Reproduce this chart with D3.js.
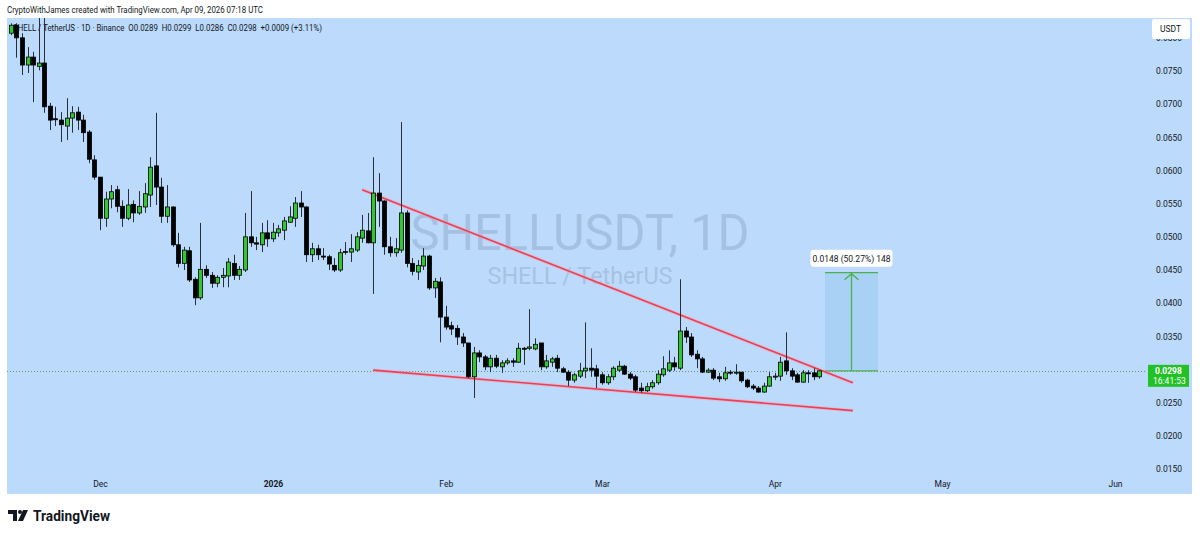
<!DOCTYPE html>
<html><head><meta charset="utf-8">
<script src="https://cdn.jsdelivr.net/npm/d3@7"></script>
<style>
body{margin:0;background:#fff;}
svg{display:block;font-family:Roboto,"Open Sans",sans-serif;}
</style></head>
<body><svg id="c" width="1200" height="535"></svg>
<script>
// ---- data ----
const startDate = "2025-11-15"; // first candle (daily)
const opens = [0.0807,0.0819,0.0800,0.0759,0.0771,0.0757,0.0762,0.0697,0.0678,0.0676,0.0667,0.0679,0.0688,0.0676,0.0658,0.0616,0.0590,0.0528,0.0557,0.0571,0.0546,0.0528,0.0549,0.0536,0.0545,0.0563,0.0607,0.0575,0.0531,0.0545,0.0488,0.0460,0.0479,0.0436,0.0408,0.0451,0.0442,0.0430,0.0439,0.0441,0.0460,0.0442,0.0450,0.0500,0.0491,0.0488,0.0506,0.0497,0.0506,0.0510,0.0522,0.0528,0.0551,0.0545,0.0473,0.0482,0.0471,0.0470,0.0457,0.0450,0.0477,0.0477,0.0480,0.0498,0.0509,0.0491,0.0566,0.0554,0.0485,0.0476,0.0480,0.0536,0.0460,0.0447,0.0456,0.0471,0.0423,0.0432,0.0379,0.0366,0.0362,0.0349,0.0340,0.0289,0.0325,0.0319,0.0304,0.0317,0.0304,0.0310,0.0313,0.0311,0.0332,0.0332,0.0331,0.0340,0.0304,0.0311,0.0317,0.0301,0.0296,0.0284,0.0290,0.0298,0.0302,0.0301,0.0292,0.0280,0.0289,0.0299,0.0305,0.0293,0.0289,0.0272,0.0268,0.0274,0.0280,0.0292,0.0299,0.0310,0.0302,0.0358,0.0349,0.0323,0.0316,0.0296,0.0299,0.0289,0.0286,0.0296,0.0295,0.0296,0.0284,0.0275,0.0272,0.0266,0.0275,0.0289,0.0290,0.0313,0.0298,0.0292,0.0281,0.0295,0.0295,0.0289];
const highs = [0.0822,0.0822,0.0807,0.0786,0.0779,0.0830,0.0830,0.0702,0.0696,0.0688,0.0709,0.0697,0.0696,0.0684,0.0661,0.0623,0.0590,0.0568,0.0578,0.0577,0.0555,0.0572,0.0555,0.0569,0.0581,0.0620,0.0687,0.0589,0.0578,0.0546,0.0506,0.0485,0.0485,0.0439,0.0521,0.0457,0.0447,0.0442,0.0453,0.0468,0.0473,0.0456,0.0536,0.0569,0.0500,0.0521,0.0525,0.0521,0.0518,0.0530,0.0546,0.0560,0.0569,0.0546,0.0491,0.0488,0.0483,0.0473,0.0468,0.0482,0.0492,0.0504,0.0507,0.0533,0.0536,0.0620,0.0596,0.0555,0.0500,0.0498,0.0673,0.0540,0.0468,0.0465,0.0483,0.0473,0.0438,0.0439,0.0396,0.0372,0.0367,0.0355,0.0340,0.0334,0.0329,0.0322,0.0322,0.0322,0.0314,0.0317,0.0317,0.0340,0.0334,0.0391,0.0347,0.0340,0.0322,0.0319,0.0322,0.0304,0.0299,0.0295,0.0310,0.0371,0.0332,0.0307,0.0296,0.0293,0.0305,0.0313,0.0307,0.0296,0.0292,0.0280,0.0280,0.0284,0.0299,0.0320,0.0329,0.0319,0.0436,0.0364,0.0355,0.0329,0.0319,0.0302,0.0302,0.0295,0.0304,0.0299,0.0308,0.0296,0.0286,0.0278,0.0275,0.0280,0.0296,0.0295,0.0319,0.0356,0.0302,0.0295,0.0299,0.0299,0.0302,0.0299];
const lows = [0.0804,0.0770,0.0744,0.0747,0.0703,0.0751,0.0687,0.0661,0.0667,0.0643,0.0646,0.0657,0.0661,0.0643,0.0611,0.0586,0.0510,0.0515,0.0543,0.0537,0.0515,0.0525,0.0522,0.0533,0.0536,0.0545,0.0548,0.0521,0.0521,0.0485,0.0454,0.0450,0.0432,0.0397,0.0405,0.0438,0.0423,0.0424,0.0424,0.0424,0.0435,0.0435,0.0447,0.0485,0.0480,0.0477,0.0485,0.0492,0.0500,0.0495,0.0521,0.0515,0.0530,0.0462,0.0462,0.0465,0.0465,0.0450,0.0447,0.0447,0.0473,0.0462,0.0477,0.0491,0.0490,0.0414,0.0515,0.0473,0.0470,0.0470,0.0476,0.0454,0.0442,0.0435,0.0450,0.0420,0.0408,0.0341,0.0360,0.0352,0.0337,0.0334,0.0287,0.0257,0.0311,0.0299,0.0296,0.0302,0.0295,0.0307,0.0304,0.0310,0.0307,0.0329,0.0329,0.0299,0.0301,0.0304,0.0296,0.0295,0.0275,0.0280,0.0287,0.0287,0.0289,0.0272,0.0277,0.0277,0.0284,0.0296,0.0292,0.0284,0.0266,0.0265,0.0266,0.0271,0.0277,0.0289,0.0296,0.0298,0.0299,0.0340,0.0319,0.0302,0.0295,0.0295,0.0284,0.0281,0.0283,0.0292,0.0292,0.0280,0.0272,0.0269,0.0265,0.0265,0.0274,0.0284,0.0283,0.0292,0.0284,0.0280,0.0280,0.0280,0.0284,0.0286];
const closes = [0.0819,0.0800,0.0759,0.0771,0.0759,0.0762,0.0696,0.0676,0.0677,0.0669,0.0679,0.0687,0.0676,0.0657,0.0617,0.0590,0.0528,0.0557,0.0568,0.0546,0.0528,0.0548,0.0536,0.0546,0.0565,0.0605,0.0575,0.0531,0.0545,0.0488,0.0460,0.0480,0.0435,0.0408,0.0451,0.0442,0.0430,0.0439,0.0442,0.0462,0.0442,0.0451,0.0500,0.0491,0.0489,0.0506,0.0497,0.0507,0.0512,0.0524,0.0530,0.0551,0.0545,0.0473,0.0482,0.0473,0.0470,0.0459,0.0450,0.0476,0.0478,0.0482,0.0500,0.0510,0.0491,0.0566,0.0554,0.0485,0.0476,0.0482,0.0536,0.0460,0.0448,0.0457,0.0471,0.0423,0.0433,0.0379,0.0364,0.0361,0.0349,0.0340,0.0289,0.0325,0.0319,0.0304,0.0317,0.0305,0.0310,0.0313,0.0311,0.0332,0.0331,0.0334,0.0338,0.0304,0.0313,0.0316,0.0302,0.0296,0.0284,0.0292,0.0298,0.0302,0.0299,0.0290,0.0280,0.0289,0.0302,0.0305,0.0293,0.0287,0.0269,0.0268,0.0274,0.0280,0.0293,0.0301,0.0310,0.0304,0.0358,0.0349,0.0322,0.0316,0.0296,0.0299,0.0287,0.0286,0.0295,0.0295,0.0296,0.0283,0.0274,0.0272,0.0266,0.0275,0.0289,0.0290,0.0311,0.0298,0.0290,0.0281,0.0295,0.0294,0.0289,0.0298];

const priceTicks = [0.0150,0.0200,0.0250,0.0350,0.0400,0.0450,0.0500,0.0550,0.0600,0.0650,0.0700,0.0750,0.0800];
const timeTickDates = ["2025-12-01","2026-01-01","2026-02-01","2026-03-01","2026-04-01","2026-05-01","2026-06-01"];
const timeTickLabels = ["Dec","2026","Feb","Mar","Apr","May","Jun"];

const upperTrendDates = ["2026-01-17","2026-04-15"];
const upperTrendPrices = [0.0571,0.0280];
const lowerTrendDates = ["2026-01-19","2026-04-15"];
const lowerTrendPrices = [0.0299,0.0238];
const rangeDates = ["2026-04-10","2026-04-19T12:00"];
const rangePrices = [0.0298,0.0446];
const rangeLabel = "0.0148 (50.27%) 148";
const lastPrice = 0.0298;
const countdown = "16:41:53";
const legendText = "SHELL / TetherUS · 1D · Binance  O0.0289  H0.0299  L0.0286  C0.0298  +0.0009 (+3.11%)";
const creditText = "CryptoWithJames created with TradingView.com, Apr 09, 2026 07:18 UTC";

// ---- layout ----
const svg = d3.select("#c");
const W = 1200, H = 535;
const frame = {x0:7, x1:1192, y0:18, y1:494};
const plot = {x0:7, x1:1146, y0:18, y1:478};
const BG = "#bcdafb";
const GREEN = "#33c633";
const parse = d3.utcParse("%Y-%m-%d");
const parseT = s => s.includes("T") ? d3.utcParse("%Y-%m-%dT%H:%M")(s) : parse(s);

const x = d3.scaleUtc().domain([parse("2025-12-01"), parse("2026-06-01")]).range([100, 1115]);
const y = d3.scaleLinear().domain([0.015, 0.075]).range([469, 71]);

const start = parse(startDate);
const candles = closes.map((c,i)=>({date:d3.utcDay.offset(start,i), o:opens[i], h:highs[i], l:lows[i], c}));

// background
svg.append("rect").attr("x",0).attr("y",0).attr("width",W).attr("height",H).attr("fill","#fff");
svg.append("rect").attr("x",frame.x0).attr("y",frame.y0).attr("width",frame.x1-frame.x0).attr("height",frame.y1-frame.y0).attr("fill",BG);

// credit
svg.append("text").attr("x",7).attr("y",12.5).attr("font-size",9.5).attr("fill","#131722")
  .attr("textLength",256).attr("lengthAdjust","spacingAndGlyphs").text(creditText);

svg.append("defs").append("clipPath").attr("id","clip").append("rect")
  .attr("x",plot.x0).attr("y",plot.y0).attr("width",plot.x1-plot.x0).attr("height",plot.y1-plot.y0);
const g = svg.append("g").attr("clip-path","url(#clip)");

// watermark
const cx = 580;
g.append("text").attr("x",cx).attr("y",250).attr("text-anchor","middle").attr("font-size",50)
  .attr("fill","#8aa2c0").attr("fill-opacity",0.45).attr("textLength",339).attr("lengthAdjust","spacingAndGlyphs").text("SHELLUSDT, 1D");
g.append("text").attr("x",cx).attr("y",284).attr("text-anchor","middle").attr("font-size",23)
  .attr("fill","#8aa2c0").attr("fill-opacity",0.45).attr("textLength",185).attr("lengthAdjust","spacingAndGlyphs").text("SHELL / TetherUS");

// legend (under candles, as in the reference)
g.append("text").attr("x",13).attr("y",31).attr("font-size",9.5).attr("fill","#131722")
  .attr("textLength",309).attr("lengthAdjust","spacingAndGlyphs").attr("xml:space","preserve").text(legendText);

// last price dotted line
g.append("line").attr("x1",plot.x0).attr("x2",plot.x1).attr("y1",Math.round(y(lastPrice))+0.5).attr("y2",Math.round(y(lastPrice))+0.5)
  .attr("stroke","#5f9a6e").attr("stroke-width",1).attr("stroke-dasharray","1,2");

// range box
const rx0 = x(parseT(rangeDates[0])), rx1 = x(parseT(rangeDates[1]));
const ry0 = y(rangePrices[0]), ry1 = y(rangePrices[1]);
g.append("rect").attr("x",rx0).attr("y",ry1).attr("width",rx1-rx0).attr("height",ry0-ry1).attr("fill","#3a9ad9").attr("fill-opacity",0.14);
[ry0, ry1].forEach(yy=>g.append("line").attr("x1",rx0).attr("x2",rx1).attr("y1",yy).attr("y2",yy).attr("stroke","#4caf50").attr("stroke-width",1.3));
const mx = (rx0+rx1)/2;
g.append("line").attr("x1",mx).attr("x2",mx).attr("y1",ry0).attr("y2",ry1+1).attr("stroke","#4caf50").attr("stroke-width",1.3);
g.append("path").attr("d",`M${mx-7},${ry1+7}L${mx},${ry1+1}L${mx+7},${ry1+7}`).attr("fill","none").attr("stroke","#4caf50").attr("stroke-width",1.3);

// trend lines
function trend(dates, prices){
  const pts = dates.map((d,i)=>[x(parseT(d)), y(prices[i])]);
  g.append("path").attr("d", d3.line()(pts)).attr("stroke","#f7a0b0").attr("stroke-width",3.5).attr("stroke-opacity",0.5).attr("fill","none");
  g.append("path").attr("d", d3.line()(pts)).attr("stroke","#ec3f58").attr("stroke-width",1.6).attr("fill","none");
}
trend(upperTrendDates, upperTrendPrices);
trend(lowerTrendDates, lowerTrendPrices);

// candles
const bw = 4;
const cg = g.append("g");
candles.forEach(d=>{
  const cxp = Math.round(x(d.date));
  const up = d.c >= d.o;
  cg.append("line").attr("x1",cxp+0.5).attr("x2",cxp+0.5).attr("y1",y(d.h)).attr("y2",y(d.l))
    .attr("stroke","#2a2e39").attr("stroke-width",1);
  const top = y(Math.max(d.o,d.c)), bot = y(Math.min(d.o,d.c));
  cg.append("rect").attr("x",cxp-1.5).attr("y",top).attr("width",bw).attr("height",Math.max(1,bot-top))
    .attr("fill", up ? GREEN : "#000").attr("stroke","#000").attr("stroke-width",0.8);
});

// range label
const lw = 82, lh = 17, lx = mx - lw/2, ly = ry1 - 23;
svg.append("rect").attr("x",lx).attr("y",ly).attr("width",lw).attr("height",lh).attr("rx",3).attr("fill","#fff");
svg.append("text").attr("x",mx).attr("y",ly+12).attr("text-anchor","middle").attr("font-size",8.5).attr("fill","#131722").text(rangeLabel);

// y axis
const ya = svg.append("g").attr("transform",`translate(1150,0)`)
  .call(d3.axisRight(y).tickValues(priceTicks).tickFormat(d3.format(".4f")).tickSize(0).tickPadding(6));
ya.select(".domain").remove();
ya.selectAll("text").attr("font-size",8.5).attr("fill","#131722").attr("font-family","Roboto,sans-serif");

// USDT box
svg.append("rect").attr("x",1152).attr("y",19).attr("width",38).attr("height",20).attr("rx",2).attr("fill","#fff");
svg.append("text").attr("x",1160).attr("y",32).attr("font-size",8.5).attr("fill","#131722").text("USDT");

// last price label
const lpY = y(lastPrice);
svg.append("rect").attr("x",1148).attr("y",lpY-6).attr("width",41).attr("height",22).attr("fill","#22c126");
svg.append("text").attr("x",1155).attr("y",lpY+3).attr("font-size",8.5).attr("font-weight","bold").attr("fill","#fff").text(d3.format(".4f")(lastPrice));
svg.append("text").attr("x",1153).attr("y",lpY+13).attr("font-size",8.5).attr("fill","#fff").text(countdown);

// x axis
const xa = svg.append("g").attr("transform",`translate(0,481)`)
  .call(d3.axisBottom(x).tickValues(timeTickDates.map(parse)).tickFormat((d,i)=>timeTickLabels[i]).tickSize(0).tickPadding(0));
xa.select(".domain").remove();
xa.selectAll("text").attr("font-size",8.5).attr("fill","#131722").attr("dy","0.71em").attr("font-family","Roboto,sans-serif")
  .attr("font-weight",(d,i)=>timeTickLabels[i]==="2026"?"bold":"normal");

// TradingView logo
const lg = svg.append("g").attr("transform","translate(8,510)").attr("fill","#131722");
lg.append("path").attr("d","M0,0H9V11H5V4H0Z");
lg.append("circle").attr("cx",12).attr("cy",2).attr("r",2);
lg.append("path").attr("d","M15,0H20L15,11H10Z");
svg.append("text").attr("x",33).attr("y",521).attr("font-size",15).attr("font-weight","bold").attr("fill","#131722")
  .attr("textLength",77).attr("lengthAdjust","spacingAndGlyphs").text("TradingView");
</script></body></html>
